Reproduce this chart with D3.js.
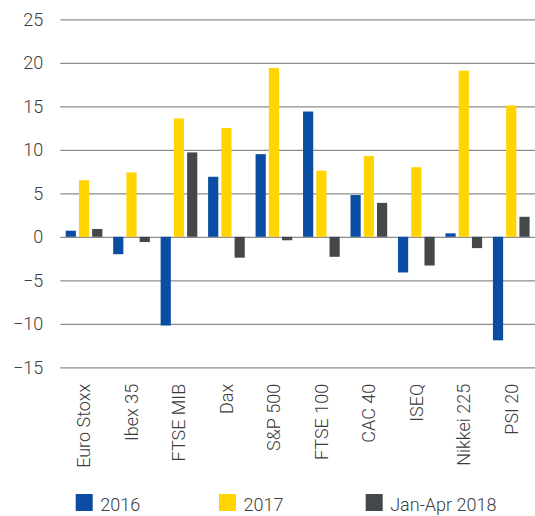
<!DOCTYPE html>
<html>
<head>
<meta charset="utf-8">
<script src="https://cdn.jsdelivr.net/npm/d3@7"></script>
<style>
  body { margin: 0; background: #fff; }
  svg text { font-family: Roboto, "Liberation Sans", sans-serif; font-weight: 300; fill: #3c3c3c; }
</style>
</head>
<body>
<svg id="chart"></svg>
<script>
// Index names along the x axis
const indices = ['Euro Stoxx', 'Ibex 35', 'FTSE MIB', 'Dax', 'S&P 500', 'FTSE 100', 'CAC 40', 'ISEQ', 'Nikkei 225', 'PSI 20'];
const seriesNames = ['2016', '2017', 'Jan-Apr 2018'];

// Returns (%)
const values2016 = [0.7, -2.0, -10.2, 6.9, 9.5, 14.4, 4.8, -4.1, 0.4, -11.9];
const values2017 = [6.5, 7.4, 13.6, 12.5, 19.4, 7.6, 9.3, 8.0, 19.1, 15.1];
const valuesJanApr2018 = [0.9, -0.6, 9.7, -2.4, -0.4, -2.3, 3.9, -3.3, -1.3, 2.3];

const yTicks = [-15, -10, -5, 0, 5, 10, 15, 20, 25];

const colors = ['#0b4da2', '#ffd400', '#45484b'];

const width = 535, height = 516;
const margin = {top: 19.3, right: 0, bottom: 148.7, left: 60.3};

const svg = d3.select('#chart')
    .attr('width', width)
    .attr('height', height);

// Build row table from the arrays
const data = indices.map((name, i) => ({
  name,
  values: [values2016[i], values2017[i], valuesJanApr2018[i]]
}));

const xScale = d3.scaleBand()
    .domain(indices)
    .range([margin.left, width - margin.right])
    .padding(0);

const xSub = d3.scaleBand()
    .domain(seriesNames)
    .range([5.4, xScale.bandwidth() - 5.4])
    .paddingInner(0.23)
    .paddingOuter(0);

const yScale = d3.scaleLinear()
    .domain([-15, 25])
    .range([height - margin.bottom, margin.top]);

const colorScale = d3.scaleOrdinal().domain(seriesNames).range(colors);

// Gridlines + y labels via axis
const yAxis = d3.axisLeft(yScale)
    .tickValues(yTicks)
    .tickSize(-(width - margin.left - margin.right))
    .tickPadding(17)
    .tickFormat(d3.format('d'));

const yAxisG = svg.append('g')
    .attr('transform', `translate(${margin.left},0)`)
    .call(yAxis);

yAxisG.select('.domain').remove();
yAxisG.selectAll('.tick line')
    .attr('stroke', '#8c8c8c')
    .attr('stroke-width', 1.3);
yAxisG.selectAll('.tick text')
    .attr('font-size', 18)
    .style('font-family', 'Roboto, sans-serif')
    .attr('fill', '#3c3c3c');

// Bars
const groups = svg.selectAll('.bar-group')
  .data(data)
  .join('g')
    .attr('class', 'bar-group')
    .attr('transform', d => `translate(${xScale(d.name)},0)`);

groups.selectAll('rect')
  .data(d => d.values.map((v, i) => ({key: seriesNames[i], value: v})))
  .join('rect')
    .attr('x', d => xSub(d.key))
    .attr('width', xSub.bandwidth())
    .attr('y', d => yScale(Math.max(0, d.value)))
    .attr('height', d => Math.abs(yScale(d.value) - yScale(0)))
    .attr('fill', d => colorScale(d.key));

// X labels, rotated
const xAxis = d3.axisBottom(xScale).tickSize(0).tickPadding(0);
const xAxisG = svg.append('g')
    .attr('transform', `translate(0,${yScale(-15)})`)
    .call(xAxis);
xAxisG.select('.domain').remove();
xAxisG.selectAll('.tick text')
    .attr('font-size', 18)
    .style('font-family', 'Roboto, sans-serif')
    .attr('fill', '#3c3c3c')
    .attr('text-anchor', 'end')
    .attr('transform', 'rotate(-90)')
    .attr('x', -16.5)
    .attr('y', 0)
    .attr('dy', '0.35em');

// Legend
const legendX = [75.7, 219, 365.7];
const legend = svg.append('g')
  .selectAll('g')
  .data(seriesNames)
  .join('g')
    .attr('transform', (d, i) => `translate(${legendX[i]},494)`);

legend.append('rect')
    .attr('width', 17)
    .attr('height', 17)
    .attr('fill', d => colorScale(d));

legend.append('text')
    .attr('x', 24.5)
    .attr('y', 16.5)
    .attr('font-size', 18)
    .text(d => d);
</script>
</body>
</html>
